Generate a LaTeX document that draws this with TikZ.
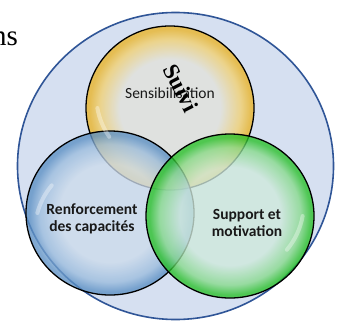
\documentclass[tikz,border=0pt]{standalone}
\usepackage{fontspec}
\setmainfont{Liberation Serif}
\newfontfamily\calib{Carlito}
\usetikzlibrary{shapes.geometric}

\definecolor{outerfill}{HTML}{D6E0F1}
\definecolor{outerline}{HTML}{2F5597}
\definecolor{yelEdge}{HTML}{EAB427}
\definecolor{yelMid}{HTML}{F2D06E}
\definecolor{yelCore}{HTML}{E2E2DA}
\definecolor{bluEdge}{HTML}{5C90C4}
\definecolor{bluMid}{HTML}{9BBCDD}
\definecolor{bluCore}{HTML}{CCDBEB}
\definecolor{grnEdge}{HTML}{28C028}
\definecolor{grnMid}{HTML}{86DA8A}
\definecolor{grnCore}{HTML}{CFE9DC}

\pgfdeclareradialshading{yellowball}{\pgfpoint{0bp}{0bp}}{%
  color(0bp)=(yelCore); color(15bp)=(yelCore); color(21bp)=(yelMid);
  color(24bp)=(yelEdge); color(25bp)=(yelEdge); color(50bp)=(yelEdge)}
\pgfdeclareradialshading{blueball}{\pgfpoint{0bp}{0bp}}{%
  color(0bp)=(bluCore); color(15bp)=(bluCore); color(21bp)=(bluMid);
  color(24bp)=(bluEdge); color(25bp)=(bluEdge); color(50bp)=(bluEdge)}
\pgfdeclareradialshading{greenball}{\pgfpoint{0bp}{0bp}}{%
  color(0bp)=(grnCore); color(15bp)=(grnCore); color(21bp)=(grnMid);
  color(24bp)=(grnEdge); color(25bp)=(grnEdge); color(50bp)=(grnEdge)}

\tikzset{
  bubble/.style={ellipse, draw=black, line width=1.3pt, minimum width=168pt,
    minimum height=164pt, inner sep=0pt, fill opacity=0.78, draw opacity=1},
  label text/.style={font=\calib\bfseries\fontsize{15.5}{17}\selectfont,
    align=center, text=black!90, inner sep=0pt},
  gloss/.style={white, opacity=0.35, line width=4pt, line cap=round}
}

\begin{document}
\begin{tikzpicture}[x=1pt, y=-1pt]
  \useasboundingbox (0,0) rectangle (339,324);

  % enclosing disc
  \node[ellipse, draw=outerline, line width=1.6pt, fill=outerfill,
        minimum width=316pt, minimum height=307pt, inner sep=0pt]
        (whole) at (175.5,166) {};

  % partly cut word at the upper left
  \node[anchor=base east, font=\fontsize{29}{32}\selectfont, inner sep=0pt]
        (cutword) at (18,45) {ns};

  % the three bubbles
  \node[bubble, shading=yellowball] (sens) at (170,108) {};
  \node[bubble, shading=blueball]   (renf) at (110,213) {};
  \node[bubble, shading=greenball]  (supp) at (230,216) {};

  % glossy highlights
  \draw[gloss] ([shift={(12,0)}]sens.west) arc[start angle=190, end angle=215, radius=72pt];
  \draw[gloss] ([shift={(12,0)}]renf.west) arc[start angle=165, end angle=140, radius=72pt];
  \draw[gloss] ([shift={(-12,0)}]supp.east) arc[start angle=-10, end angle=-40, radius=72pt];

  % labels
  \node[label text, font=\calib\fontsize{15.5}{17}\selectfont] (tsens) at (170,93) {Sensibilisation};
  \node[label text] (trenf) at (92,219) {Renforcement\\des capacités};
  \node[label text] (tsupp) at (247,223) {Support et\\motivation};

  \node[rotate=-63, font=\bfseries\fontsize{23}{25}\selectfont, inner sep=0pt]
        (suivi) at (181,88) {Suivi};
\end{tikzpicture}
\end{document}
